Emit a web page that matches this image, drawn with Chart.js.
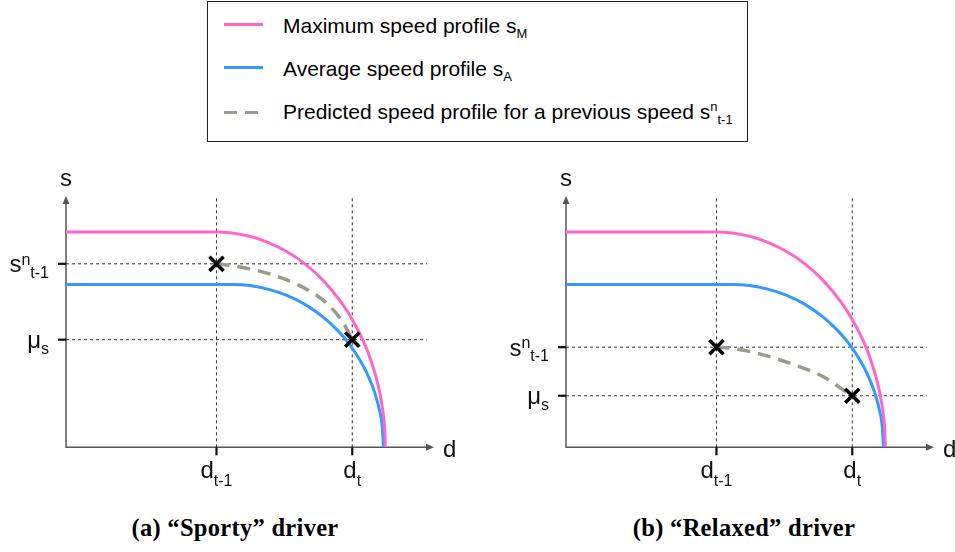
<!DOCTYPE html>
<html>
<head>
<meta charset="utf-8">
<script src="https://cdn.jsdelivr.net/npm/chart.js@4.4.1/dist/chart.umd.min.js"></script>
<style>
  body { margin: 0; width: 955px; height: 552px; background: #fff; position: relative; overflow: hidden;
         font-family: "Liberation Sans", Arial, sans-serif; color: #000; }
  #legendBox { position: absolute; left: 207px; top: 1px; width: 539px; height: 139px; border: 1.5px solid #222; }
  .swatch { position: absolute; height: 3px; }
  .legText { position: absolute; left: 283px; font-size: 21px; white-space: nowrap; }
  .sub, .sup { font-size: 13px; position: relative; line-height: 0; }
  .sub { top: 5px; }
  .sup { top: -8px; }
  canvas { position: absolute; top: 150px; }
  #sporty { left: 0; }
  #relaxed { left: 478px; }
  .caption { position: absolute; top: 514px; width: 400px; text-align: center; letter-spacing: 0.3px;
             font: bold 24.5px "Liberation Serif", "DejaVu Serif", serif; }
</style>
</head>
<body>
<div id="legendBox"></div>
<div class="swatch" style="left:224px; top:23px; width:39px; background:#ff66cc;"></div>
<div class="swatch" style="left:224px; top:66px; width:39px; background:#3399ff;"></div>
<div class="swatch" style="left:224px; top:111px; width:13px; background:#9a9a8e;"></div>
<div class="swatch" style="left:245px; top:111px; width:13px; background:#9a9a8e;"></div>
<div class="legText" style="top:14px;">Maximum speed profile s<span class="sub">M</span></div>
<div class="legText" style="top:57px;">Average speed profile s<span class="sub">A</span></div>
<div class="legText" style="top:100px;">Predicted speed profile for a previous speed s<span class="sup">n</span><span class="sub">t-1</span></div>

<canvas id="sporty" width="478" height="345"></canvas>
<canvas id="relaxed" width="477" height="345"></canvas>

<div class="caption" style="left:35px;">(a) “Sporty” driver</div>
<div class="caption" style="left:544px;">(b) “Relaxed” driver</div>

<script>
// maximum speed profile s_M (distance, speed)
const maxProfileD = [0, 41, 50, 55, 60, 65, 70, 75, 78, 81, 83, 85, 86, 86.6, 86.9, 87];
const maxProfileS = [86, 86, 84.3, 81.9, 78.3, 73.4, 66.8, 57.9, 51.1, 42.5, 35.1, 25.1, 17.8, 11.3, 5.7, 0];

// average speed profile s_A
const avgProfileD = [0, 45.5, 50, 55, 60, 65, 70, 74, 77, 80, 82, 84, 85.5, 86.2, 86.5];
const avgProfileS = [65, 65, 64.6, 63.2, 60.8, 57.2, 52.1, 46.7, 41.6, 35.1, 29.6, 22.4, 14.3, 7.9, 0];

// d_{t-1} and d_t
const distTicks = [41, 78];
const distTickLabels = [["d", "", "t-1"], ["d", "", "t"]];

// s^n_{t-1} and mu_s for each driver
const sportySpeedTicks = [73.3, 43];
const relaxedSpeedTicks = [40, 20.6];
const speedTickLabels = [["s", "n", "t-1"], ["μ", "", "s"]];

// predicted profile from the previous speed
const sportyPredD = [41, 45.6, 54.7, 63.8, 71, 75.6, 78];
const sportyPredS = [73.3, 72.5, 69.6, 64.5, 57.6, 49.6, 43];
const relaxedPredD = [41, 44.7, 52, 61, 70.1, 75.6, 78];
const relaxedPredS = [40, 39.6, 37.6, 33.6, 28.2, 22.9, 20.6];

const PINK = "#ff66cc";
const BLUE = "#3399ff";
const GRAY = "#9a9a8e";
const AXIS = "#555";

const toPoints = (xs, ys) => xs.map((x, i) => ({ x: x, y: ys[i] }));

function drawParts(ctx, x, y, parts, align, mainSize, smallSize, offs) {
  const mainFont = mainSize + "px 'Liberation Sans', Arial, sans-serif";
  const smallFont = smallSize + "px 'Liberation Sans', Arial, sans-serif";
  ctx.font = mainFont;
  const w0 = ctx.measureText(parts[0]).width;
  ctx.font = smallFont;
  const w1 = ctx.measureText(parts[1]).width;
  const w2 = ctx.measureText(parts[2]).width;
  const total = w0 + w1 + w2;
  let sx = align === "right" ? x - total : x - total / 2;
  ctx.textAlign = "left";
  ctx.textBaseline = "alphabetic";
  ctx.font = mainFont;
  ctx.fillText(parts[0], sx, y + offs[0]);
  ctx.font = smallFont;
  ctx.fillText(parts[1], sx + w0, y + offs[1]);
  ctx.fillText(parts[2], sx + w0 + w1, y + offs[2]);
}

const axesPlugin = {
  id: "axesPlugin",
  beforeDatasetsDraw(chart) {
    const { ctx, chartArea: a } = chart;
    ctx.save();
    ctx.strokeStyle = AXIS;
    ctx.fillStyle = AXIS;
    ctx.lineWidth = 1.5;
    ctx.beginPath();
    ctx.moveTo(a.left, a.top + 4);
    ctx.lineTo(a.left, a.bottom);
    ctx.lineTo(a.right - 4, a.bottom);
    ctx.stroke();
    // arrow heads
    ctx.beginPath();
    ctx.moveTo(a.left, a.top - 1);
    ctx.lineTo(a.left - 3.5, a.top + 7);
    ctx.lineTo(a.left + 3.5, a.top + 7);
    ctx.closePath();
    ctx.fill();
    ctx.beginPath();
    ctx.moveTo(a.right + 1, a.bottom);
    ctx.lineTo(a.right - 7, a.bottom - 3.5);
    ctx.lineTo(a.right - 7, a.bottom + 3.5);
    ctx.closePath();
    ctx.fill();
    ctx.restore();
  },
  afterDraw(chart, args, opts) {
    const { ctx, chartArea: a, scales } = chart;
    ctx.save();
    ctx.fillStyle = "#111";
    ctx.strokeStyle = "#111";
    ctx.lineWidth = 2.2;
    opts.speedTicks.forEach((v, i) => {
      const py = scales.y.getPixelForValue(v);
      ctx.beginPath();
      ctx.moveTo(a.left - 8, py);
      ctx.lineTo(a.left, py);
      ctx.stroke();
      drawParts(ctx, a.left - 17, py, speedTickLabels[i], "right", 24, 16, [8.5, 1, 14]);
    });
    distTicks.forEach((v, i) => {
      const px = scales.x.getPixelForValue(v);
      ctx.beginPath();
      ctx.moveTo(px, a.bottom);
      ctx.lineTo(px, a.bottom + 8);
      ctx.stroke();
      drawParts(ctx, px, a.bottom, distTickLabels[i], "center", 24, 16, [30.7, 30.7, 39]);
    });
    ctx.font = "24px 'Liberation Sans', Arial, sans-serif";
    ctx.textAlign = "center";
    ctx.fillText("s", a.left, a.top - 11);
    ctx.textAlign = "left";
    ctx.fillText("d", a.right + 10, a.bottom + 10);
    ctx.restore();
  }
};

function makeChart(id, speedTicks, predD, predS, padLeft, padRight) {
  const guides = [];
  speedTicks.forEach(v => guides.push({ data: [{ x: 0, y: v }, { x: 98.3, y: v }] }));
  distTicks.forEach(v => guides.push({ data: [{ x: v, y: 0 }, { x: v, y: 100 }] }));
  guides.forEach(g => Object.assign(g, {
    borderColor: "#333", borderWidth: 1, borderDash: [3, 3], order: 5
  }));

  return new Chart(document.getElementById(id), {
    type: "line",
    data: {
      datasets: [
        { label: "s_M", data: toPoints(maxProfileD, maxProfileS), borderColor: PINK,
          borderWidth: 3, cubicInterpolationMode: "monotone", order: 2 },
        { label: "s_A", data: toPoints(avgProfileD, avgProfileS), borderColor: BLUE,
          borderWidth: 3, cubicInterpolationMode: "monotone", order: 3 },
        { label: "predicted", data: toPoints(predD, predS), borderColor: GRAY,
          borderWidth: 3.5, borderDash: [13, 8], cubicInterpolationMode: "monotone", order: 4 },
        { label: "points", data: distTicks.map((d, i) => ({ x: d, y: speedTicks[i] })),
          showLine: false, pointStyle: "crossRot", pointRadius: 10, pointBorderWidth: 3.5,
          borderColor: "#000", pointBorderColor: "#000", order: 0 },
        ...guides
      ]
    },
    options: {
      responsive: false,
      animation: false,
      devicePixelRatio: 1,
      layout: { padding: { left: padLeft, right: padRight, top: 47, bottom: 47.7 } },
      elements: { point: { radius: 0 } },
      scales: {
        x: { type: "linear", min: 0, max: 100, display: false },
        y: { type: "linear", min: 0, max: 100, display: false }
      },
      plugins: {
        legend: { display: false },
        tooltip: { enabled: false },
        axesPlugin: { speedTicks: speedTicks }
      }
    },
    plugins: [axesPlugin]
  });
}

makeChart("sporty", sportySpeedTicks, sportyPredD, sportyPredS, 66, 45);
makeChart("relaxed", relaxedSpeedTicks, relaxedPredD, relaxedPredS, 88, 22);
</script>
</body>
</html>
